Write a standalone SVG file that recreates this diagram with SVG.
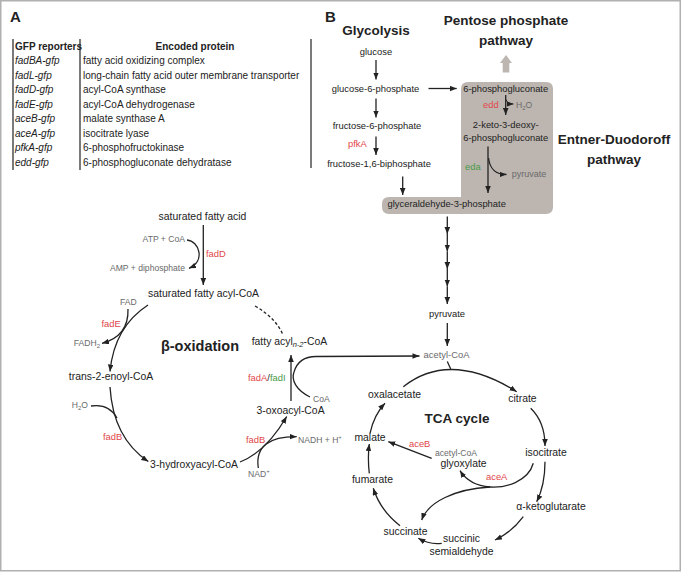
<svg xmlns="http://www.w3.org/2000/svg" width="681" height="572" viewBox="0 0 681 572">
<style>
text{font-family:"Liberation Sans",Arial,sans-serif;fill:#222}
.n{font-size:10.4px}
.s{font-size:9.4px}
.g{font-size:8.6px;fill:#6a6a6a}
.r{fill:#e0464b}
.gr{fill:#4a9a48}
.h{font-weight:bold;font-size:13.5px}
.t{font-size:10px}
.ti{font-size:10px;font-style:italic}
.c{text-anchor:middle}
.e{text-anchor:end}
.ln{fill:none;stroke:#222;stroke-width:1.3}
.a{marker-end:url(#ah)}
</style>
<defs>
<marker id="ah" markerUnits="userSpaceOnUse" markerWidth="8" markerHeight="6" refX="7" refY="2.8" orient="auto"><path d="M0,0 L7,2.8 L0,5.6 z" fill="#222"/></marker>
</defs>
<rect x="0.75" y="0.75" width="679.5" height="570" fill="#fff" stroke="#b0b0b0" stroke-width="1.5"/>

<!-- Panel A -->
<g id="panelA">
<text x="10" y="22" style="font-weight:bold;font-size:15px">A</text>
<g id="table" stroke="#222" stroke-width="1.2">
<line x1="13" y1="39" x2="13" y2="170"/>
<line x1="80" y1="39" x2="80" y2="170"/>
<line x1="311" y1="39" x2="311" y2="168"/>
</g>
<text x="15" y="50" style="font-weight:bold;font-size:10px">GFP reporters</text>
<text x="195" y="50" class="c" style="font-weight:bold;font-size:10px">Encoded protein</text>
<text x="15" y="64" class="ti">fadBA-gfp</text><text x="83" y="64" class="t">fatty acid oxidizing complex</text>
<text x="15" y="78.5" class="ti">fadL-gfp</text><text x="83" y="78.5" class="t">long-chain fatty acid outer membrane transporter</text>
<text x="15" y="93" class="ti">fadD-gfp</text><text x="83" y="93" class="t">acyl-CoA synthase</text>
<text x="15" y="107.5" class="ti">fadE-gfp</text><text x="83" y="107.5" class="t">acyl-CoA dehydrogenase</text>
<text x="15" y="122" class="ti">aceB-gfp</text><text x="83" y="122" class="t">malate synthase A</text>
<text x="15" y="136.5" class="ti">aceA-gfp</text><text x="83" y="136.5" class="t">isocitrate lyase</text>
<text x="15" y="151" class="ti">pfkA-gfp</text><text x="83" y="151" class="t">6-phosphofructokinase</text>
<text x="15" y="165.5" class="ti">edd-gfp</text><text x="83" y="165.5" class="t">6-phosphogluconate dehydratase</text>
</g>

<!-- Panel B -->
<text x="325" y="22" style="font-weight:bold;font-size:15px">B</text>

<g id="ed-box">
<path d="M461,89 Q461,82 468,82 L546,82 Q553,82 553,89 L553,207 Q553,214 546,214 L389,214 Q382,214 382,207 L382,204 Q382,197 389,197 L461,197 Z" fill="#bdb6b0"/>
</g>
<g id="ppp-arrow"><path d="M506,55 L512,63 L509.3,63 L509.3,72.5 L502.7,72.5 L502.7,63 L500,63 Z" fill="#bdb6b0"/></g>

<g id="title-glycolysis"><text x="376" y="35" class="h c">Glycolysis</text></g>
<g id="title-ppp"><text x="506" y="25" class="h c">Pentose phosphate</text><text x="506" y="45" class="h c">pathway</text></g>
<g id="title-ed"><text x="614" y="143.5" class="h c">Entner-Duodoroff</text><text x="614" y="163.5" class="h c">pathway</text></g>

<g id="glucose"><text x="376" y="55" class="s c">glucose</text></g>
<g id="g6p"><text x="375.5" y="91.7" class="s c">glucose-6-phosphate</text></g>
<g id="f6p"><text x="377" y="129.3" class="s c">fructose-6-phosphate</text></g>
<g id="pfkA"><text x="348" y="146.7" class="s r">pfkA</text></g>
<g id="f16bp"><text x="379" y="167.3" class="s c">fructose-1,6-biphosphate</text></g>
<g id="6pg"><text x="505.7" y="91.7" class="s c">6-phosphogluconate</text></g>
<g id="edd"><text x="483" y="108" class="s r">edd</text></g>
<g id="h2o-ed"><text x="516" y="107.5" class="g">H<tspan font-size="6" dy="2">2</tspan><tspan dy="-2">O</tspan></text></g>
<g id="kdpg"><text x="505.7" y="128" class="s c">2-keto-3-deoxy-</text><text x="505.7" y="140.7" class="s c">6-phosphogluconate</text></g>
<g id="eda"><text x="465" y="170" class="s gr">eda</text></g>
<g id="pyr-ed"><text x="511.7" y="176.7" class="g" style="font-size:9px">pyruvate</text></g>
<g id="gap"><text x="446.7" y="206.7" class="s c">glyceraldehyde-3-phosphate</text></g>
<g id="pyruvate"><text x="447" y="316.7" class="s c">pyruvate</text></g>
<g id="acetylcoa"><text x="446.5" y="358.3" class="g c" style="font-size:9.4px">acetyl-CoA</text></g>

<!-- beta oxidation -->
<g id="sfa"><text x="202.5" y="220" class="n c">saturated fatty acid</text></g>
<g id="atp"><text x="185" y="241.7" class="g e">ATP + CoA</text></g>
<g id="amp"><text x="185" y="270.7" class="g e">AMP + diphosphate</text></g>
<g id="fadD"><text x="206" y="256.7" class="s r">fadD</text></g>
<g id="sfacoa"><text x="203.5" y="297.3" class="n c">saturated fatty acyl-CoA</text></g>
<g id="fad"><text x="120" y="305" class="g">FAD</text></g>
<g id="fadE"><text x="101.5" y="326.7" class="s r">fadE</text></g>
<g id="fadh2"><text x="100" y="346" class="g e">FADH<tspan font-size="6" dy="2">2</tspan></text></g>
<g id="betaox"><text x="200" y="351" class="c" style="font-weight:bold;font-size:14.5px">β-oxidation</text></g>
<g id="fattyacyl"><text x="251.7" y="344.5" class="n">fatty acyl<tspan font-size="7.5" font-style="italic" dy="2">n-2</tspan><tspan dy="-2">-CoA</tspan></text></g>
<g id="fadAI"><text x="248" y="381" class="s"><tspan class="r">fadA</tspan>/<tspan class="gr">fadI</tspan></text></g>
<g id="coa"><text x="313" y="401.7" class="g">CoA</text></g>
<g id="oxoacyl"><text x="290.5" y="414" class="n c">3-oxoacyl-CoA</text></g>
<g id="enoyl"><text x="111" y="380" class="n c">trans-2-enoyl-CoA</text></g>
<g id="h2o-b"><text x="71.7" y="408.3" class="g">H<tspan font-size="6" dy="2">2</tspan><tspan dy="-2">O</tspan></text></g>
<g id="fadB1"><text x="103" y="440" class="s r">fadB</text></g>
<g id="fadB2"><text x="246" y="443" class="s r">fadB</text></g>
<g id="nadh"><text x="298" y="443" class="g">NADH + H<tspan font-size="6" dy="-4">+</tspan></text></g>
<g id="hydroxyacyl"><text x="194" y="468.3" class="n c">3-hydroxyacyl-CoA</text></g>
<g id="nad"><text x="248" y="476.7" class="g">NAD<tspan font-size="6" dy="-4">+</tspan></text></g>

<!-- TCA -->
<g id="oxalacetate"><text x="394.5" y="398.3" class="n c">oxalacetate</text></g>
<g id="citrate"><text x="522.5" y="401.7" class="n c">citrate</text></g>
<g id="tca"><text x="457" y="423.3" class="c" style="font-weight:bold;font-size:13.5px">TCA cycle</text></g>
<g id="malate"><text x="370" y="441" class="n c">malate</text></g>
<g id="aceB"><text x="409" y="446.7" class="s r">aceB</text></g>
<g id="acetylcoa2"><text x="456" y="456" class="g c">acetyl-CoA</text></g>
<g id="glyoxylate"><text x="463.5" y="466.7" class="n c">glyoxylate</text></g>
<g id="isocitrate"><text x="546" y="456" class="n c">isocitrate</text></g>
<g id="aceA"><text x="486" y="480" class="s r">aceA</text></g>
<g id="fumarate"><text x="372.5" y="482.7" class="n c">fumarate</text></g>
<g id="akg"><text x="551" y="510" class="n c">α-ketoglutarate</text></g>
<g id="succinate"><text x="405.5" y="535" class="n c">succinate</text></g>
<g id="ssa"><text x="461.5" y="541.7" class="n c">succinic</text><text x="461.5" y="555" class="n c">semialdehyde</text></g>

<g id="connectors">
<!-- glycolysis -->
<path class="ln a" d="M376,60 L376,79.5"/>
<path class="ln a" d="M376,98.5 L376,117.5"/>
<path class="ln a" d="M376,136.5 L376,155"/>
<path class="ln a" d="M402.7,176.5 L402.7,195"/>
<path class="ln a" d="M428.5,88.5 L456.7,88.5"/>
<!-- ED -->
<path class="ln a" d="M505.7,95 L505.7,115"/>
<path class="ln a" style="stroke-width:1" d="M506,99.5 Q507,104 513.5,104"/>
<path class="ln a" d="M488,146.5 L488,193"/>
<path class="ln a" d="M488.5,158 C490,170 496,174.5 506.5,174.5"/>
<!-- chain -->
<path class="ln a" d="M447.3,216.5 L447.3,234"/>
<path class="ln a" d="M447.3,234 L447.3,251.5"/>
<path class="ln a" d="M447.3,251.5 L447.3,269"/>
<path class="ln a" d="M447.3,269 L447.3,286.5"/>
<path class="ln a" d="M447.3,286.5 L447.3,304"/>
<path class="ln a" d="M447.3,323 L447.3,346"/>
<!-- beta oxidation -->
<path class="ln a" d="M203.3,225 L203.3,285"/>
<path class="ln a" d="M187,240 C199,241 206,261 189,268.3"/>
<path class="ln a" d="M148,305 C128,318 113,340 110,371.5"/>
<path class="ln a" d="M128,309 C128.5,325 122,338 102,343.3"/>
<path class="ln a" d="M110,387 C112,420 125,446 148.3,461.5"/>
<path class="ln" d="M91,406 C104,404 112,409 117,418"/>
<path class="ln a" d="M240,462 C258,455 273,440 286.7,416.5"/>
<path class="ln a" d="M258.3,468 C255,446 270,436.5 296.7,436.7"/>
<path class="ln a" d="M291,401 L291,355"/>
<path class="ln a" d="M310,397 C296,390 291,380 294,372 C297,362 305,356.5 316,356.5 L419.5,356"/>
<path class="ln" style="stroke-dasharray:3,2.2" d="M255,306 Q276,318 283,335"/>
<!-- TCA -->
<path class="ln a" d="M403.3,386.7 Q450,350 516.7,391.7"/>
<path class="ln" d="M447.3,361.5 L450.7,369"/>
<path class="ln a" d="M530.7,408.3 Q545,422 545,446"/>
<path class="ln a" d="M545,461.7 Q545,485 536.7,501.7"/>
<path class="ln a" d="M523.3,516.7 Q512,532 495,540"/>
<path class="ln a" d="M441.7,543.3 Q430,545 418.3,538.3"/>
<path class="ln a" d="M400,525.7 Q380,510 373.3,488.3"/>
<path class="ln a" d="M369.3,473.3 Q367.5,458 369.3,444"/>
<path class="ln a" d="M370,433.3 Q374,415 385,403.3"/>
<path class="ln a" d="M431.7,458.3 L388.3,441.7"/>
<path class="ln a" d="M533.3,463.3 C528,482 505,488 490,487 C475,486 466,480 460,470.7"/>
<path class="ln a" d="M490,487 C455,489 428,502 421.7,520"/>
</g>
</svg>
